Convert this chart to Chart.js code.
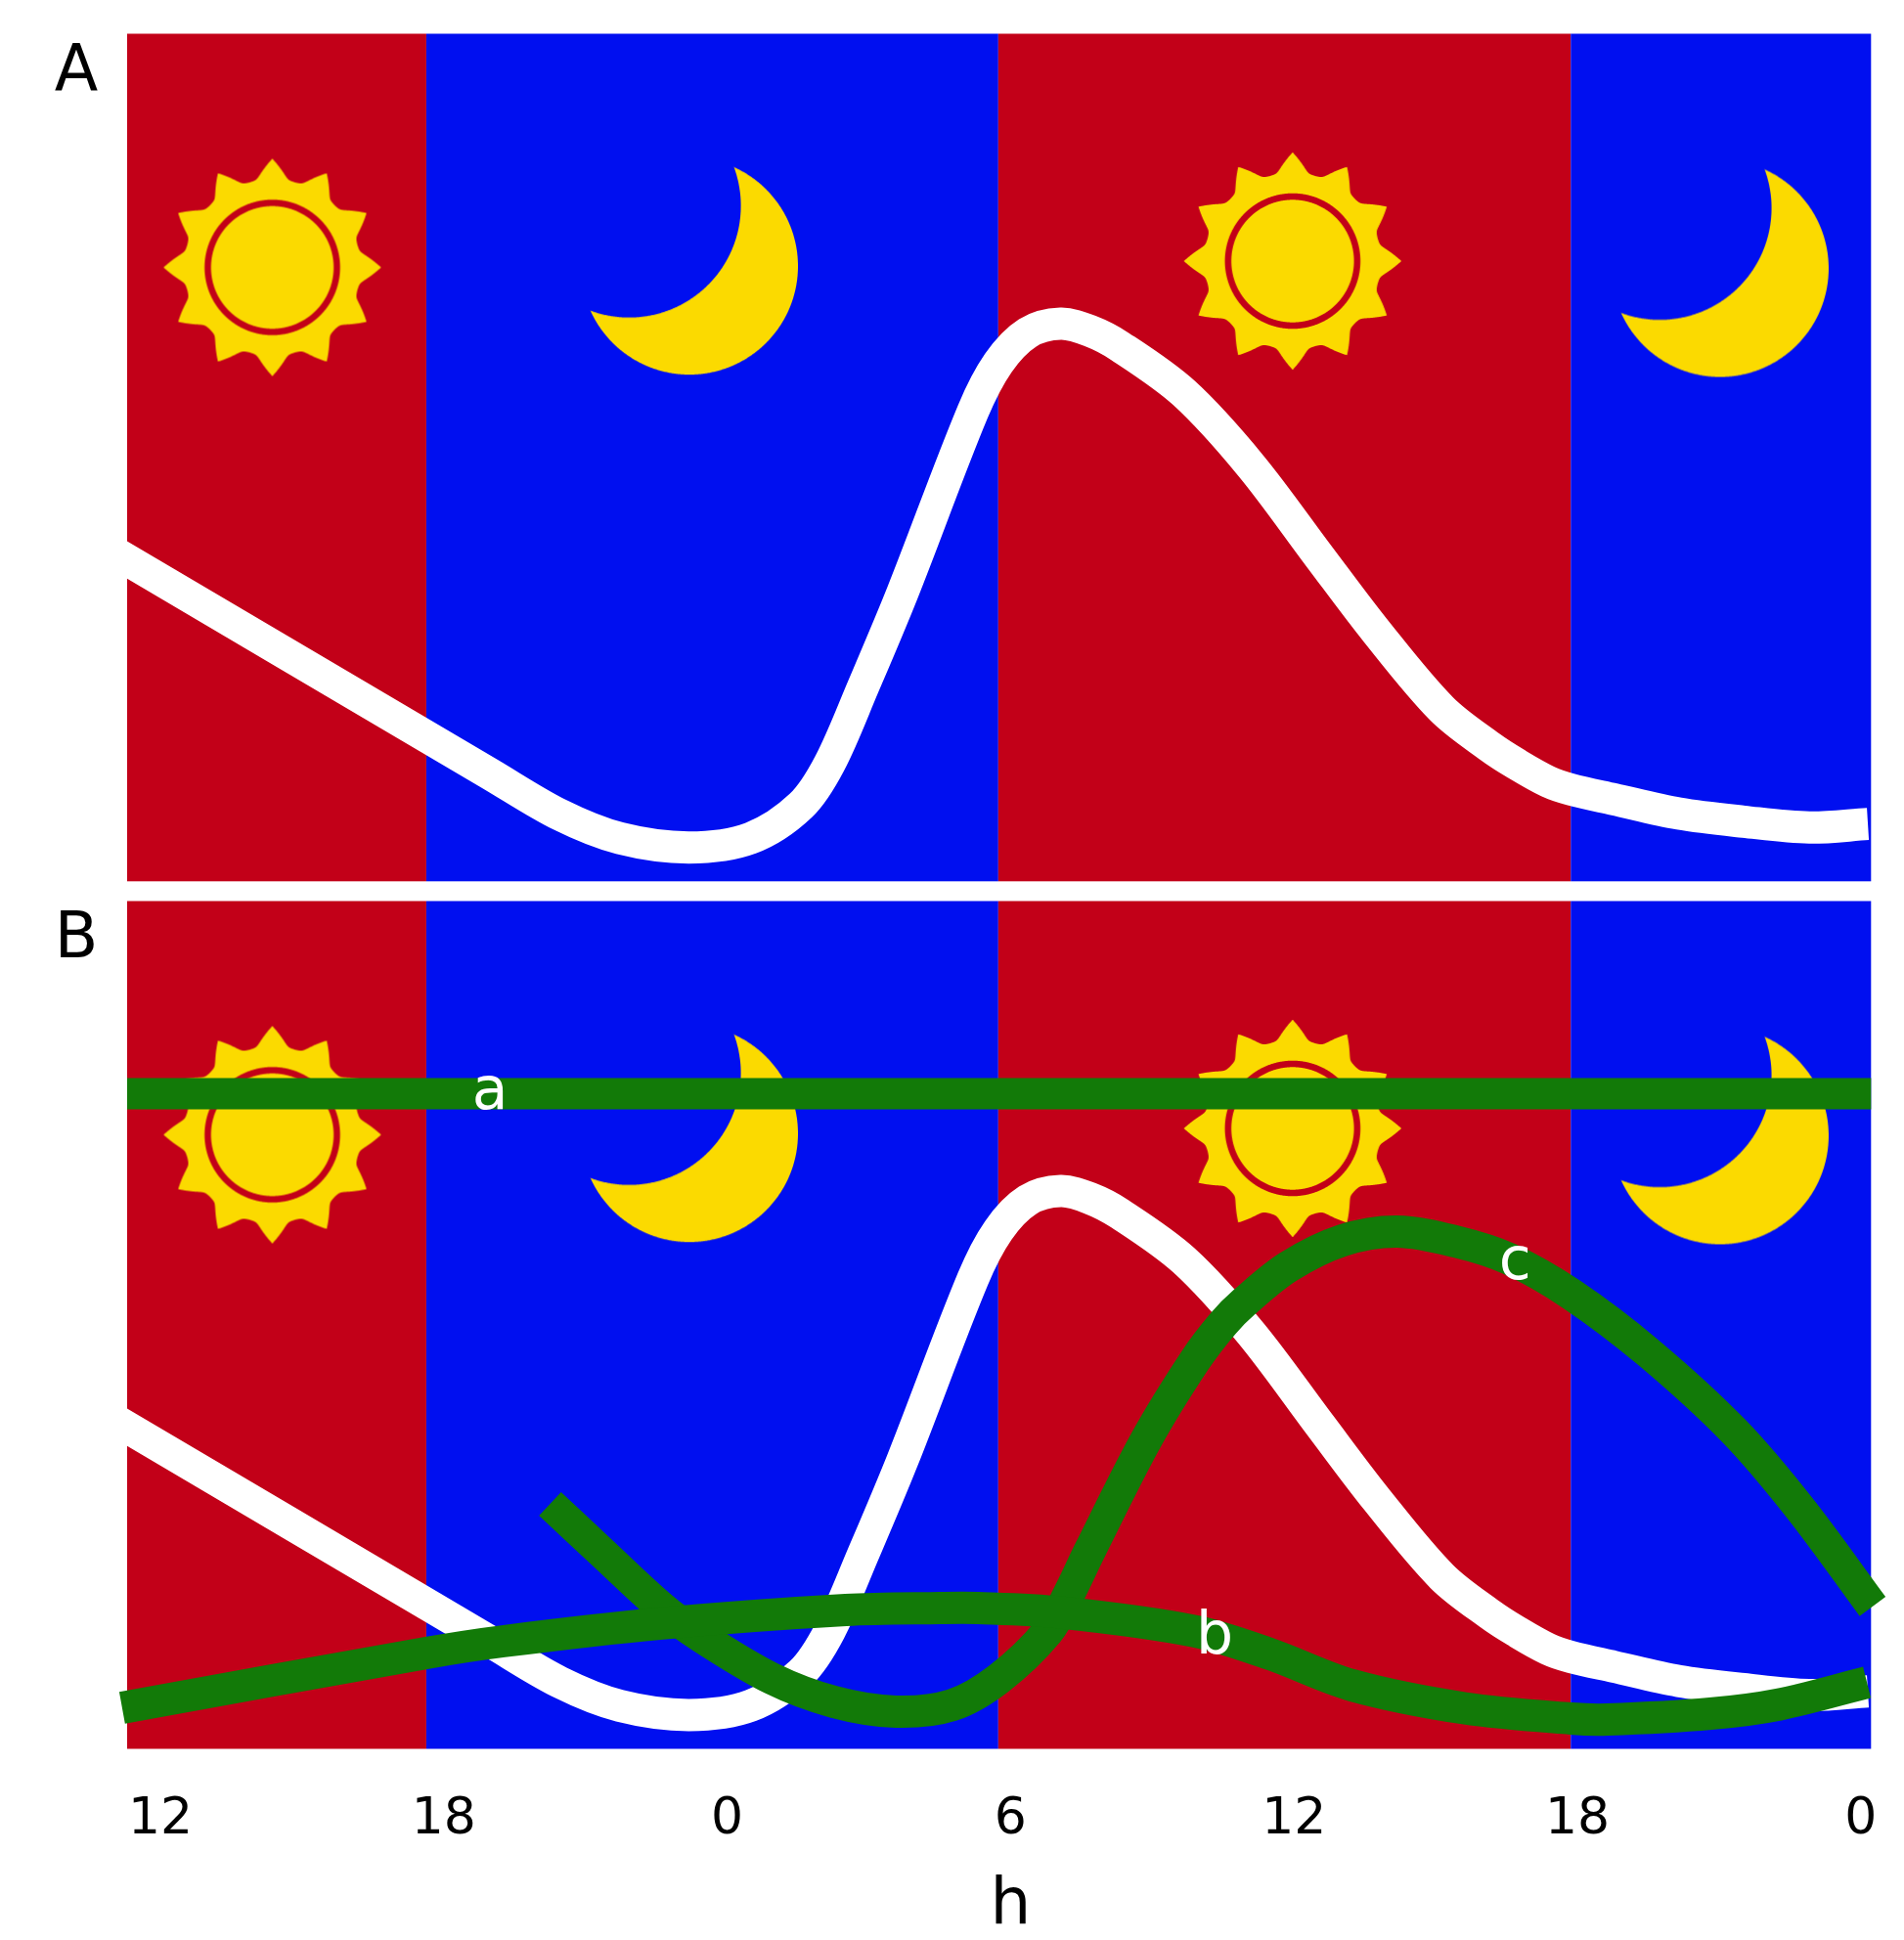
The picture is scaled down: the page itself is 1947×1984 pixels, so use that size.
<!DOCTYPE html>
<html>
<head>
<meta charset="utf-8">
<title>Day and night curves</title>
<script src="https://cdn.jsdelivr.net/npm/chart.js@4"></script>
<style>
  html, body { margin: 0; background: #fff; }
  #page { position: relative; width: 1947px; height: 1984px; overflow: hidden; }
  canvas { position: absolute; left: 0; top: 0; }
</style>
</head>
<body>
<div id="page">
  <canvas id="panelA" width="1947" height="1984"></canvas>
  <canvas id="panelB" width="1947" height="1984"></canvas>
</div>
<script>
// Data: x is hours since the first 12 tick, y is height above the panel floor

const tickHours = [0, 6, 12, 18, 24, 30, 36];
const tickLabels = ['12', '18', '0', '6', '12', '18', '0'];

const bandEdges = [-0.704, 5.63, 17.74, 29.86, 36.217];
const bandKinds = ['day', 'night', 'day', 'night'];

const whiteHours = [-1.5, 6.96, 8.46, 9.73, 11.19, 12.50, 13.56, 14.17, 14.88, 15.71, 17.20, 17.74, 18.36, 19.06, 19.68, 20.32, 21.67, 23.09, 24.55, 25.75, 27.13, 28.16, 28.70, 29.38, 29.86, 30.77, 32.15, 33.52, 34.91, 36.15];
const whiteValues = [351.5, 110.4, 68, 44, 34.6, 44.2, 77.5, 120.7, 199.2, 295, 480.4, 530.2, 561, 570.4, 563, 547, 499.6, 425, 331.2, 255, 176.2, 137.2, 120.3, 102, 94, 84, 69.3, 61, 55, 58.7];

const lineAHours = [-0.704, 36.217];
const lineAValues = [670, 670];

const lineBHours = [-0.81, 5.63, 7.26, 10.56, 14.51, 16.50, 17.31, 19.05, 21.90, 23.49, 25.23, 27.61, 29.86, 30.64, 32.82, 34.26, 36.13];
const lineBValues = [42, 98, 110, 128, 142, 144, 144, 139.5, 120.3, 97, 65, 41.5, 31, 30, 36, 45.3, 68];

const lineCHours = [8.25, 9.34, 10.60, 11.43, 12.94, 14.26, 15.57, 16.76, 17.74, 18.79, 19.23, 19.68, 20.87, 21.90, 22.50, 22.95, 23.88, 25.03, 26.18, 27.41, 28.56, 29.87, 31.51, 33.32, 34.72, 36.25];
const lineCValues = [250.5, 201.3, 145, 115.3, 72, 48, 38, 44.7, 71.4, 120, 158, 203, 316, 397, 435, 457, 493, 520, 529, 519, 501, 465, 405, 324.7, 245.5, 145.6];

const sunHours = [2.37, 23.97];
const sunValues = [628, 634.5];
const moonHours = [11.20, 33.02];
const moonValues = [629.3, 627];

const curveNames = ['a', 'b', 'c'];
const curveNameHours = [6.98, 22.32, 28.68];
const curveNameValues = [670, 113, 496];

const RED = '#C20018';
const BLUE = '#000FF0';
const YELLOW = '#FBDA00';
const GREEN = '#127A08';
const FONT = '"DejaVu Sans", sans-serif';

function toPoints(xs, ys) {
    return xs.map((x, i) => ({ x: x, y: ys[i] }));
}

// Icons used as point styles, traced as fine polygons

function circlePath(g, cx, cy, r) {
    g.beginPath();
    for (let a = 0; a < 720; a++) {
        const t = a * Math.PI / 360;
        g.lineTo(cx + r * Math.cos(t), cy + r * Math.sin(t));
    }
    g.closePath();
}

function makeSun() {
    const c = document.createElement('canvas');
    c.width = c.height = 240;
    const g = c.getContext('2d');
    g.beginPath();
    for (let a = 0; a < 1440; a++) {
        const deg = a / 4;
        const d = Math.abs(((deg + 15) % 30) - 15);
        const ray = 111 - 2.1 * d;
        const r = 0.5 * (ray + 89.6 + Math.sqrt((ray - 89.6) * (ray - 89.6) + 16));
        const t = deg * Math.PI / 180;
        g.lineTo(120 + r * Math.sin(t), 120 - r * Math.cos(t));
    }
    g.closePath();
    g.fillStyle = YELLOW;
    g.fill();
    circlePath(g, 120, 120, 66);
    g.lineWidth = 6.6;
    g.strokeStyle = RED;
    g.stroke();
    return c;
}

function makeMoon() {
    const c = document.createElement('canvas');
    c.width = c.height = 240;
    const g = c.getContext('2d');
    g.fillStyle = YELLOW;
    circlePath(g, 120, 120, 111);
    g.fill();
    g.globalCompositeOperation = 'destination-out';
    circlePath(g, 58.3, 58.3, 114.3);
    g.fill();
    return c;
}

const sunIcon = makeSun();
const moonIcon = makeMoon();

// Plugins

const dayNightBands = {
    id: 'dayNightBands',
    beforeDatasetsDraw(chart) {
        const { ctx, chartArea, scales } = chart;
        bandKinds.forEach((kind, i) => {
            const x0 = scales.x.getPixelForValue(bandEdges[i]);
            const x1 = scales.x.getPixelForValue(bandEdges[i + 1]);
            ctx.fillStyle = kind === 'day' ? RED : BLUE;
            ctx.fillRect(x0, chartArea.top, x1 - x0, chartArea.bottom - chartArea.top);
        });
    }
};

function panelLetter(letter) {
    return {
        id: 'panelLetter',
        afterDraw(chart) {
            const { ctx, chartArea } = chart;
            ctx.save();
            ctx.font = '65px ' + FONT;
            ctx.fillStyle = '#000';
            ctx.textAlign = 'center';
            ctx.textBaseline = 'alphabetic';
            ctx.fillText(letter, chartArea.left - 52, chartArea.top + 57.5);
            ctx.restore();
        }
    };
}

const curveLabels = {
    id: 'curveLabels',
    afterDatasetsDraw(chart) {
        const { ctx, scales } = chart;
        ctx.save();
        ctx.font = '60px ' + FONT;
        ctx.fillStyle = '#fff';
        ctx.textAlign = 'center';
        ctx.textBaseline = 'middle';
        curveNames.forEach((name, i) => {
            ctx.fillText(name, scales.x.getPixelForValue(curveNameHours[i]), scales.y.getPixelForValue(curveNameValues[i]));
        });
        ctx.restore();
    }
};

const axisName = {
    id: 'axisName',
    afterDraw(chart) {
        const { ctx, scales, chartArea } = chart;
        ctx.save();
        ctx.font = '66px ' + FONT;
        ctx.fillStyle = '#000';
        ctx.textAlign = 'center';
        ctx.textBaseline = 'alphabetic';
        ctx.fillText('h', scales.x.getPixelForValue(18), chartArea.bottom + 178);
        ctx.restore();
    }
};

// Charts

function iconSet(xs, ys, icon) {
    return {
        type: 'scatter',
        data: toPoints(xs, ys),
        pointStyle: icon,
        pointRadius: 20,
        showLine: false,
        clip: false,
        order: 3
    };
}

function curve(xs, ys, color, width, order, clip) {
    return {
        type: 'line',
        data: toPoints(xs, ys),
        borderColor: color,
        borderWidth: width,
        borderCapStyle: 'butt',
        borderJoinStyle: 'round',
        tension: 0.33,
        capBezierPoints: false,
        pointRadius: 0,
        fill: false,
        clip: clip,
        order: order
    };
}

function baseDatasets() {
    return [
        curve(whiteHours, whiteValues, '#fff', 33, 2, 0),
        iconSet(sunHours, sunValues, sunIcon),
        iconSet(moonHours, moonValues, moonIcon)
    ];
}

function baseOptions(showAxis, padding) {
    return {
        responsive: false,
        animation: false,
        events: [],
        layout: { padding: padding },
        plugins: { legend: { display: false }, tooltip: { enabled: false } },
        scales: {
            x: {
                type: 'linear',
                display: showAxis,
                min: bandEdges[0],
                max: bandEdges[bandEdges.length - 1],
                grid: { display: false },
                border: { display: false },
                afterBuildTicks(scale) {
                    scale.ticks = tickHours.map(v => ({ value: v }));
                },
                afterFit(scale) {
                    scale.height = showAxis ? 195.5 : 0;
                    scale.paddingLeft = 0;
                    scale.paddingRight = 0;
                },
                ticks: {
                    autoSkip: false,
                    maxRotation: 0,
                    padding: 34,
                    color: '#000',
                    font: { family: FONT, size: 52 },
                    callback: v => tickLabels[tickHours.indexOf(v)]
                }
            },
            y: { display: false, min: 0, max: 867 }
        }
    };
}

new Chart(document.getElementById('panelA'), {
    data: { datasets: baseDatasets() },
    options: baseOptions(false, { left: 130, right: 33.7, top: 34.5, bottom: 1082.7 }),
    plugins: [dayNightBands, panelLetter('A')]
});

new Chart(document.getElementById('panelB'), {
    data: {
        datasets: baseDatasets().concat([
            curve(lineAHours, lineAValues, GREEN, 32, 1, false),
            curve(lineBHours, lineBValues, GREEN, 33, 1, false),
            curve(lineCHours, lineCValues, GREEN, 33, 1, false)
        ])
    },
    options: baseOptions(true, { left: 130, right: 33.7, top: 921.5, bottom: 0 }),
    plugins: [dayNightBands, panelLetter('B'), curveLabels, axisName]
});
</script>
</body>
</html>
